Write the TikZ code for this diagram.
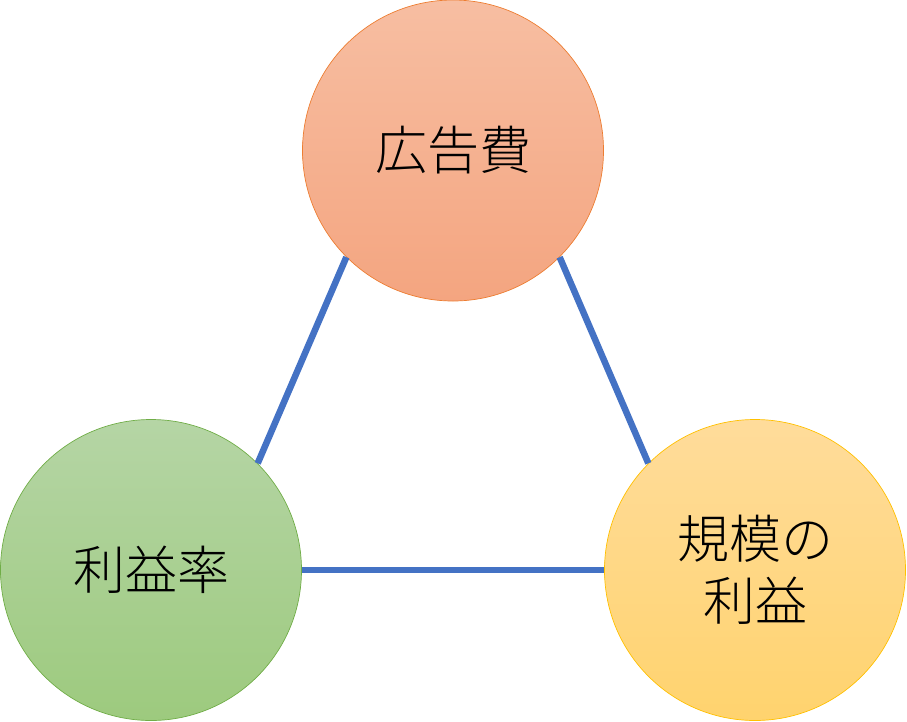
\documentclass[tikz,border=0pt]{standalone}
\usepackage{fontspec}
\newfontfamily\jpfont{Noto Sans CJK JP}[UprightFont={* Light}]
\definecolor{conn}{HTML}{4472C4}
\definecolor{orbd}{HTML}{ED7D31}
\definecolor{ortop}{HTML}{F7BEA2}
\definecolor{orbot}{HTML}{F4A580}
\definecolor{grbd}{HTML}{70AD47}
\definecolor{grtop}{HTML}{B5D5A5}
\definecolor{grbot}{HTML}{9DCA7E}
\definecolor{ylbd}{HTML}{FFC000}
\definecolor{yltop}{HTML}{FFDC9B}
\definecolor{ylbot}{HTML}{FFD36E}
\tikzset{
  bubble/.style={circle, minimum size=301pt, inner sep=0pt, line width=0.7pt,
    font=\jpfont\fontsize{52}{62}\selectfont, align=center},
  link/.style={conn, line width=6.5pt}
}
\begin{document}
\begin{tikzpicture}[x=1pt,y=-1pt]
\useasboundingbox (0,0) rectangle (907,721);
\node[bubble, draw=orbd, top color=ortop, bottom color=orbot] (ad) at (453,150.5) {広告費};
\node[bubble, draw=grbd, top color=grtop, bottom color=grbot] (rate) at (151,570) {利益率};
\node[bubble, draw=ylbd, top color=yltop, bottom color=ylbot] (scale) at (755,570) {規模の\\利益};
\draw[link] (ad.225) -- (rate.45);
\draw[link] (ad.-45) -- (scale.135);
\draw[link] (rate.east) -- (scale.west);
\end{tikzpicture}
\end{document}
